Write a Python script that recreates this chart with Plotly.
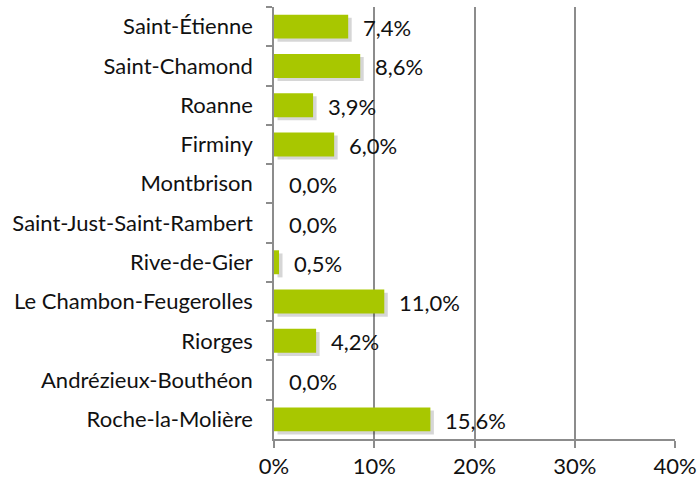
import plotly.graph_objects as go

categories = ["Saint-Étienne", "Saint-Chamond", "Roanne", "Firminy", "Montbrison",
              "Saint-Just-Saint-Rambert", "Rive-de-Gier", "Le Chambon-Feugerolles",
              "Riorges", "Andrézieux-Bouthéon", "Roche-la-Molière"]
values = [7.4, 8.6, 3.9, 6.0, 0.0, 0.0, 0.5, 11.0, 4.2, 0.0, 15.6]
tick_vals = [0, 10, 20, 30, 40]
tick_text = ["0%", "10%", "20%", "30%", "40%"]

labels = [f"{v:.1f}%".replace(".", ",") for v in values]
FONT = "Lato, Carlito, Calibri, sans-serif"
FS = 22
BAR_W = 0.61

fig = go.Figure()
# shadow
fig.add_trace(go.Bar(
    y=categories, x=values, base=[0.35] * len(values), orientation="h",
    width=BAR_W, offset=-BAR_W / 2 + 0.08,
    marker=dict(color="rgba(0,0,0,0.16)", line=dict(width=0)),
    hoverinfo="skip", showlegend=False,
))
fig.add_trace(go.Bar(
    y=categories, x=values, orientation="h", width=BAR_W, offset=-BAR_W / 2,
    marker=dict(color="#A8C700", line=dict(width=0)),
    showlegend=False,
))
for c, v, t in zip(categories, values, labels):
    fig.add_annotation(x=v, y=c, text=t, showarrow=False, xanchor="left",
                       xshift=13, yshift=-1,
                       font=dict(family=FONT, size=FS, color="#111111"))

fig.update_layout(
    width=698, height=479,
    margin=dict(l=274, r=23, t=7, b=40),
    paper_bgcolor="white", plot_bgcolor="white",
    barmode="overlay",
    font=dict(family=FONT, size=FS, color="#111111"),
)
fig.update_xaxes(
    range=[0, 40], tickvals=tick_vals, ticktext=tick_text,
    showgrid=True, gridcolor="#8c8c8c", gridwidth=1.5,
    showline=True, linecolor="#8c8c8c", linewidth=1.5,
    ticks="outside", ticklen=7, tickcolor="#8c8c8c", tickwidth=1.5,
    zeroline=False, tickfont=dict(size=FS), automargin=False,
)
fig.update_yaxes(
    autorange="reversed", tickson="boundaries",
    showline=True, linecolor="#8c8c8c", linewidth=1.5, mirror=False,
    ticks="outside", ticklen=6, tickcolor="#8c8c8c", tickwidth=1.5,
    showgrid=False, tickfont=dict(size=FS), ticklabelstandoff=15,
    automargin=False,
)

fig.write_html("out.html", config={"displayModeBar": False},
               post_script="document.body.style.margin='0';")
